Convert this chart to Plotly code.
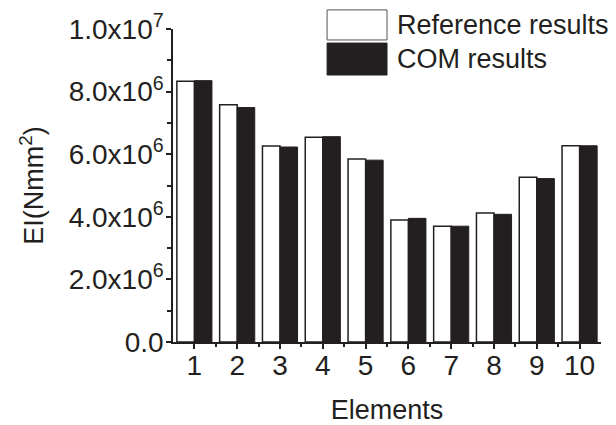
import plotly.graph_objects as go

elements = [1, 2, 3, 4, 5, 6, 7, 8, 9, 10]
reference_results = [8.33e6, 7.58e6, 6.26e6, 6.54e6, 5.85e6, 3.90e6, 3.70e6, 4.12e6, 5.26e6, 6.27e6]
com_results = [8.35e6, 7.49e6, 6.23e6, 6.56e6, 5.81e6, 3.95e6, 3.70e6, 4.08e6, 5.22e6, 6.27e6]
y_tickvals = [0, 2e6, 4e6, 6e6, 8e6, 1e7]
y_ticktext = ["0.0", "2.0x10<sup>6</sup>", "4.0x10<sup>6</sup>", "6.0x10<sup>6</sup>",
              "8.0x10<sup>6</sup>", "1.0x10<sup>7</sup>"]

INK = "#231f20"
FONT = "Liberation Sans, Arial, sans-serif"
FS = 27
FT = 28

fig = go.Figure()
fig.add_trace(go.Bar(x=elements, y=reference_results, name="Reference results",
                     marker=dict(color="white", line=dict(color=INK, width=1.5)),
                     showlegend=False))
fig.add_trace(go.Bar(x=elements, y=com_results, name="COM results",
                     marker=dict(color=INK, line=dict(color=INK, width=1)),
                     showlegend=False))

# custom legend (large swatches as in the original)
fig.add_shape(type="rect", xref="paper", yref="paper", x0=0.36, x1=0.50, y0=0.965, y1=1.061,
              line=dict(color="#555", width=1), fillcolor="white")
fig.add_shape(type="rect", xref="paper", yref="paper", x0=0.36, x1=0.50, y0=0.853, y1=0.955,
              line=dict(color=INK, width=1), fillcolor=INK)
fig.add_annotation(xref="paper", yref="paper", x=0.519, y=1.013, text="Reference results",
                   showarrow=False, xanchor="left", yanchor="middle",
                   font=dict(family=FONT, size=FS, color=INK))
fig.add_annotation(xref="paper", yref="paper", x=0.519, y=0.904, text="COM results",
                   showarrow=False, xanchor="left", yanchor="middle",
                   font=dict(family=FONT, size=FS, color=INK))

fig.update_layout(
    width=616, height=425,
    margin=dict(l=173, r=15, t=29, b=83),
    paper_bgcolor="white", plot_bgcolor="white",
    barmode="group", bargap=0.18, bargroupgap=0,
    font=dict(family=FONT, size=FS, color=INK),
)
fig.update_xaxes(
    range=[0.5, 10.5], tickmode="array", tickvals=elements, ticktext=[str(e) for e in elements],
    showline=True, linecolor=INK, linewidth=1.5, showgrid=False, zeroline=False,
    ticks="outside", ticklen=5, tickwidth=1.5, tickcolor=INK, automargin=False,
    ticklabelstandoff=-7,
    minor=dict(tickmode="array", tickvals=[e + 0.5 for e in elements[:-1]], ticks="outside",
               ticklen=3, tickwidth=1.5, tickcolor=INK, showgrid=False),
    title=dict(text="Elements", font=dict(family=FONT, size=FS, color=INK), standoff=23),
    tickfont=dict(family=FONT, size=FT, color=INK),
)
fig.update_yaxes(
    range=[0, 1e7], tickmode="array", tickvals=y_tickvals, ticktext=y_ticktext,
    showline=True, linecolor=INK, linewidth=1.5, showgrid=False, zeroline=False,
    ticks="outside", ticklen=5, tickwidth=1.5, tickcolor=INK, automargin=False,
    ticklabelstandoff=-3,
    minor=dict(tickmode="array", tickvals=[1e6, 3e6, 5e6, 7e6, 9e6], ticks="outside",
               ticklen=4, tickwidth=1.5, tickcolor=INK, showgrid=False),
    title=dict(text="EI(Nmm<sup>2</sup>)", font=dict(family=FONT, size=FS, color=INK), standoff=17),
    tickfont=dict(family=FONT, size=FT, color=INK),
)

fig.write_html("out.html", config={"displayModeBar": False},
               post_script="document.body.style.margin='0px';")
